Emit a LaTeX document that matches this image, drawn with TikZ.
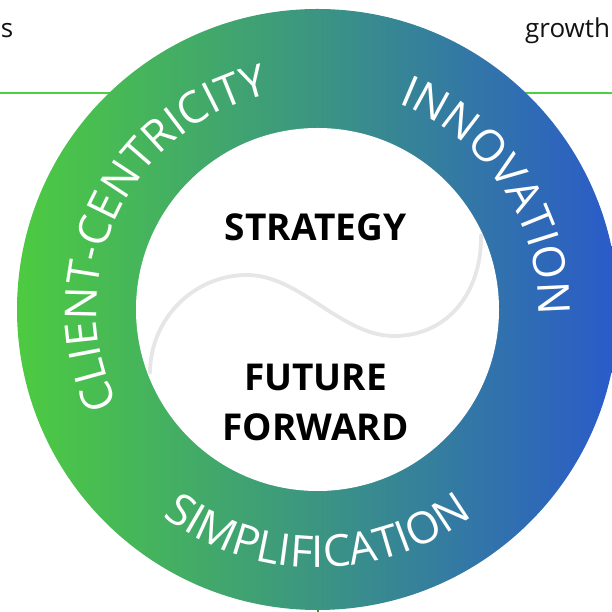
\documentclass[tikz,border=0pt]{standalone}
\usepackage{fontspec}
\setmainfont{Open Sans}
\newfontfamily\osans{Open Sans}
\usetikzlibrary{decorations.text}
\definecolor{ringleft}{HTML}{4DCB40}
\definecolor{ringmid}{HTML}{3B9582}
\definecolor{ringright}{HTML}{2A5ACA}
\definecolor{linegreen}{HTML}{4CD03F}
\definecolor{swirl}{HTML}{E6E6E6}
\newcommand\ringfmt{\osans\fontsize{44}{44}\selectfont\color{white}}
\tikzset{
  ringlabel/.style={decorate, decoration={text along path, text align=center, text={#1}}},
  centerlabel/.style={font=\osans\bfseries\fontsize{37}{37}\selectfont, text=black, inner sep=0pt},
  sidetext/.style={font=\osans\fontsize{26}{30}\selectfont, text=black!93, inner sep=0pt}
}
\begin{document}
\begin{tikzpicture}[x=1pt,y=1pt]
\useasboundingbox (0,0) rectangle (612,612);
\coordinate (c) at (317.5,302.5);
% background lines
\draw[line width=2pt, linegreen] (0,518.5) -- (612,518.5);
\draw[line width=2pt, linegreen!70!black] (c) -- (317.5,0);
% ring
\shade[left color=ringleft, right color=ringright, middle color=ringmid] (c) circle (300.5);
\fill[white] (c) circle (181.5);
% swirl
\draw[swirl, line width=3.8pt, line cap=round]
  (150,239) .. controls (150,292.6) and (193.4,337) .. (247,337)
  .. controls (300,337) and (341,276) .. (394,276)
  .. controls (448,276) and (482,320) .. (481,377);
% ring labels
\path[ringlabel={|\ringfmt|CLIENT-CENTRICITY}] (c) ++(244:221) arc[start angle=244, end angle=64, radius=221];
\path[ringlabel={|\ringfmt|INNOVATION}] (c) ++(123.5:221) arc[start angle=123.5, end angle=-56.5, radius=221];
\path[ringlabel={|\ringfmt|SIMPLIFICATION}] (c) ++(180:258) arc[start angle=180, end angle=360, radius=258];
% center labels
\node[centerlabel] (strategy) at (315.5,385) {STRATEGY};
\node[centerlabel] (future) at (315.5,234.5) {FUTURE};
\node[centerlabel] (forward) at (315.5,184.5) {FORWARD};
% side texts
\node[sidetext, anchor=base east] (lefttext) at (13.5,574) {s};
\node[sidetext, anchor=base west] (righttext) at (525,574) {growth};
\end{tikzpicture}
\end{document}
